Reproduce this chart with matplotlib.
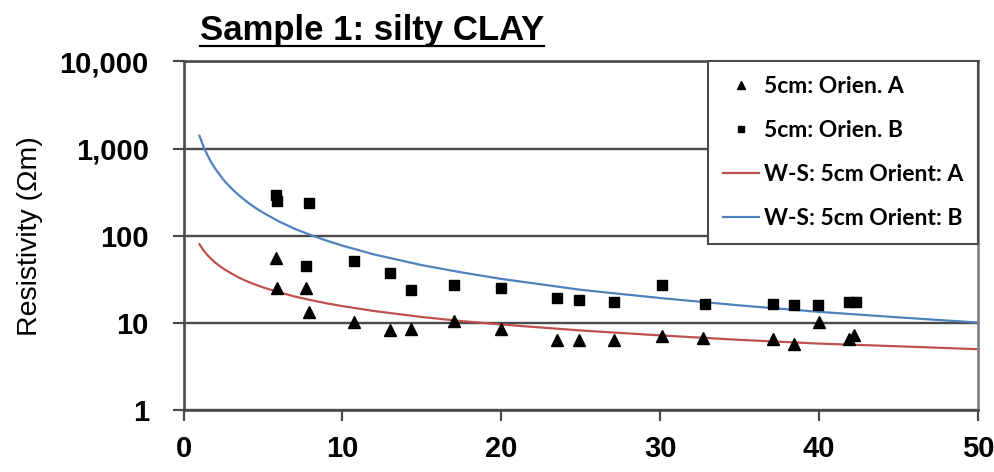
import matplotlib
matplotlib.use('Agg')
import matplotlib.pyplot as plt
from matplotlib.ticker import FixedLocator, FuncFormatter, NullLocator

# measured points, orientation A (triangles)
a_x = [5.8, 5.9, 7.7, 7.9, 10.7, 13.0, 14.3, 17.0, 20.0, 23.5, 24.9, 27.1, 30.1, 32.7,
       37.1, 38.4, 40.0, 41.9, 42.2]
a_y = [55, 25, 25, 13.5, 10.3, 8.3, 8.6, 10.6, 8.5, 6.3, 6.3, 6.3, 7.1, 6.7,
       6.6, 5.8, 10.2, 6.6, 7.2]

# measured points, orientation B (squares)
b_x = [5.8, 5.9, 7.9, 7.7, 10.7, 13.0, 14.3, 17.0, 20.0, 23.5, 24.9, 27.1, 30.1, 32.8,
       37.1, 38.4, 39.9, 41.9, 42.3]
b_y = [295, 250, 240, 45, 52, 37, 24, 27, 25.5, 19.5, 18.5, 17.5, 27.5, 16.5,
       16.3, 16.0, 16.2, 17.3, 17.3]

# W-S model curves
ws_x = [1, 1.25, 1.5, 1.75, 2, 2.5, 3, 3.5, 4, 4.5, 5, 6, 7, 8, 9, 10, 12, 15, 17.5,
        20, 25, 30, 35, 40, 45, 50]
ws_a = [80, 68, 60, 54, 49, 42, 37, 33, 30, 27.6, 25.6, 22.5, 20.1, 18.3, 16.8, 15.6,
        13.7, 11.7, 10.5, 9.6, 8.2, 7.2, 6.4, 5.8, 5.4, 5.0]
ws_b = [1400, 1055, 840, 690, 585, 440, 351, 289, 244, 210, 184, 146, 120, 102, 88, 77,
        61, 46, 38, 32, 24, 19.3, 15.9, 13.4, 11.6, 10.1]

y_ticks = [1, 10, 100, 1000, 10000]
x_ticks = [0, 10, 20, 30, 40, 50]

plt.rcParams['font.family'] = ['Liberation Sans', 'DejaVu Sans']

fig = plt.figure(figsize=(9.94, 4.72), dpi=100)
ax = fig.add_axes([0.1847, 0.131, 0.7993, 0.739])

ax.plot(ws_x, ws_a, color='#c0504d', lw=1.6, label='W-S: 5cm Orient: A', zorder=2)
ax.plot(ws_x, ws_b, color='#4f81bd', lw=1.6, label='W-S: 5cm Orient: B', zorder=2)
ax.plot(a_x, a_y, ls='none', marker='^', ms=8.5, color='black', label='5cm: Orien. A', zorder=3)
ax.plot(b_x, b_y, ls='none', marker='s', ms=7.5, color='black', label='5cm: Orien. B', zorder=3)

ax.set_yscale('log')
ax.set_ylim(1, 10000)
ax.set_xlim(0, 50)
ax.yaxis.set_major_locator(FixedLocator(y_ticks))
ax.yaxis.set_minor_locator(NullLocator())
ax.yaxis.set_major_formatter(FuncFormatter(lambda v, p: '{:,.0f}'.format(v)))
ax.set_xticks(x_ticks)

ax.grid(True, axis='y', color='#4a4a4a', lw=1.7)
ax.set_axisbelow(True)
for s in ax.spines.values():
    s.set_color('#4a4a4a')
    s.set_linewidth(1.9)
ax.spines['right'].set_color('#7f7f7f')

ax.tick_params(axis='both', direction='out', length=8, width=1.6, color='#4a4a4a',
               labelsize=21)
ax.tick_params(axis='y', pad=17)
ax.tick_params(axis='x', pad=10)
for lab in ax.get_xticklabels() + ax.get_yticklabels():
    lab.set_fontweight('bold')

ax.set_ylabel('Resistivity (\u03a9m)', fontsize=20.5, labelpad=12)

title = fig.text(0.201, 0.916, 'Sample 1: silty CLAY', fontsize=25, fontweight='bold',
                 ha='left', va='baseline')
fig.canvas.draw()
bb = title.get_window_extent().transformed(fig.transFigure.inverted())
fig.add_artist(plt.Line2D([bb.x0, bb.x1], [0.903, 0.903], color='black', lw=1.6,
                          transform=fig.transFigure))

handles, labels = ax.get_legend_handles_labels()
order = [2, 3, 0, 1]
leg = ax.legend([handles[i] for i in order], [labels[i] for i in order],
                loc='upper right', bbox_to_anchor=(1.0, 1.0), fancybox=False,
                framealpha=1, edgecolor='#4a4a4a', borderaxespad=0,
                prop={'family': ['Lato', 'DejaVu Sans'], 'weight': 'bold', 'size': 16.5},
                labelspacing=1.0, handlelength=1.6, handletextpad=0.2,
                borderpad=0.65, markerscale=0.6)
leg.get_frame().set_linewidth(1.5)

fig.savefig('out.png', dpi=100)
